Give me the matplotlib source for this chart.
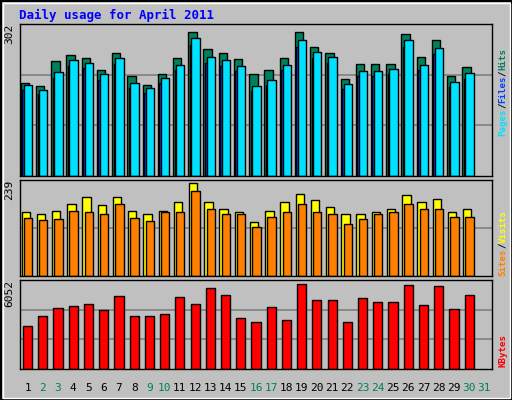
import matplotlib
matplotlib.use("Agg")
import matplotlib.pyplot as plt
import numpy as np

days = list(range(1, 32))
hits = [190,184,236,248,242,218,252,204,186,208,242,295,261,252,240,208,218,242,295,265,252,198,230,230,230,291,244,279,204,224]
pages = [186,176,212,238,232,208,242,190,180,200,228,283,244,238,226,184,196,228,279,254,244,188,216,216,220,279,228,263,192,210]
files = [p*0.95 for p in pages]
visits = [165,160,168,186,202,181,202,168,158,168,189,239,189,173,165,139,168,189,210,194,176,158,158,165,171,207,189,197,163,171]
sites = [150,144,147,168,163,160,184,150,142,163,165,218,171,158,158,126,152,163,184,165,158,134,147,158,163,184,173,171,152,152]
kbytes = [3026,3746,4322,4467,4611,4178,5187,3746,3746,3890,5115,4611,5763,5259,3602,3314,4395,3458,6052,4899,4899,3314,5043,4755,4755,5979,4539,5907,4251,5259]
weekend = {2,3,9,10,16,17,23,24,30,31}

BG = "#c0c0c0"
fig = plt.figure(figsize=(5.12, 4.0), dpi=100, facecolor=BG)
W, H = 512, 400
def ax_px(x0, y0, x1, y1):
    a = fig.add_axes([x0/W, 1-y1/H, (x1-x0)/W, (y1-y0)/H])
    a.set_facecolor(BG)
    a.set_xlim(0.5, 31.5)
    a.set_xticks([]); a.set_yticks([])
    for s in a.spines.values():
        s.set_color("black"); s.set_linewidth(1)
    return a

x = np.arange(1, 31)
ek = dict(edgecolor="black", linewidth=1, align="edge")

a1 = ax_px(20, 24, 492, 176)
a1.set_ylim(0, 302/0.97)
for g in (1/3, 2/3):
    a1.axhline(302/0.97*g, color="#808080", lw=1.2, zorder=0)
a1.bar(x-0.45, hits, 0.55, color="#00805c", **ek)
a1.bar(x-0.35, files, 0.55, color="#0040ff", **ek)
a1.bar(x-0.25, pages, 0.55, color="#00e0ff", **ek)

a2 = ax_px(20, 180, 492, 276)
a2.set_ylim(0, 239/0.97)
a2.axhline(239/0.97/2, color="#808080", lw=1.2, zorder=0)
a2.bar(x-0.4, visits, 0.55, color="#ffff00", **ek)
a2.bar(x-0.25, sites, 0.55, color="#ff8000", **ek)

a3 = ax_px(20, 280, 492, 369)
a3.set_ylim(0, 6052/0.96)
for g in (1/3, 2/3):
    a3.axhline(6052/0.96*g, color="#808080", lw=1.2, zorder=0)
a3.bar(x-0.3, kbytes, 0.6, color="#ff0000", **ek)

fnt = "DejaVu Sans Mono"
fig.text(19/W, 1-15/H, "Daily usage for April 2011", color="#0000ff", fontsize=9,
         fontweight="bold", family=fnt, va="center", ha="left")
for a, lab in ((a1, "302"), (a2, "239"), (a3, "6052")):
    a.text(-0.012, 1.0, lab, transform=a.transAxes, rotation=90, ha="right", va="top",
           fontsize=8, family=fnt)
for d in days:
    fig.text((20 + (d-0.5)*472/31)/W, 1-388/H, str(d), ha="center", va="center",
             fontsize=8, family=fnt, color="#00805c" if d in weekend else "black")

def right_label(y_bottom, text_parts):
    fs = 6.6
    step = 0.6*fs*100/72
    y = y_bottom
    for txt, col in text_parts:
        fig.text(503/W, 1-y/H, txt, rotation=90, color=col, fontsize=fs, family=fnt,
                 fontweight="bold", ha="center", va="bottom")
        y -= len(txt)*step
right_label(136, [("Pages", "#00e0ff"), ("/", "black"), ("Files", "#0040ff"), ("/", "black"), ("Hits", "#00805c")])
right_label(276, [("Sites", "#ff8000"), ("/", "black"), ("Visits", "#ffff00")])
right_label(367, [("KBytes", "#ff0000")])

fig.add_artist(plt.Rectangle((0.5/W, 0.5/H), 1-1/W, 1-1/H, transform=fig.transFigure,
                             fill=False, edgecolor="black", lw=1.5))
fig.add_artist(plt.Rectangle((2.5/W, 2.5/H), 1-5/W, 1-5/H, transform=fig.transFigure,
                             fill=False, edgecolor="white", lw=1))
fig.savefig("out.png", dpi=100, facecolor=BG)
